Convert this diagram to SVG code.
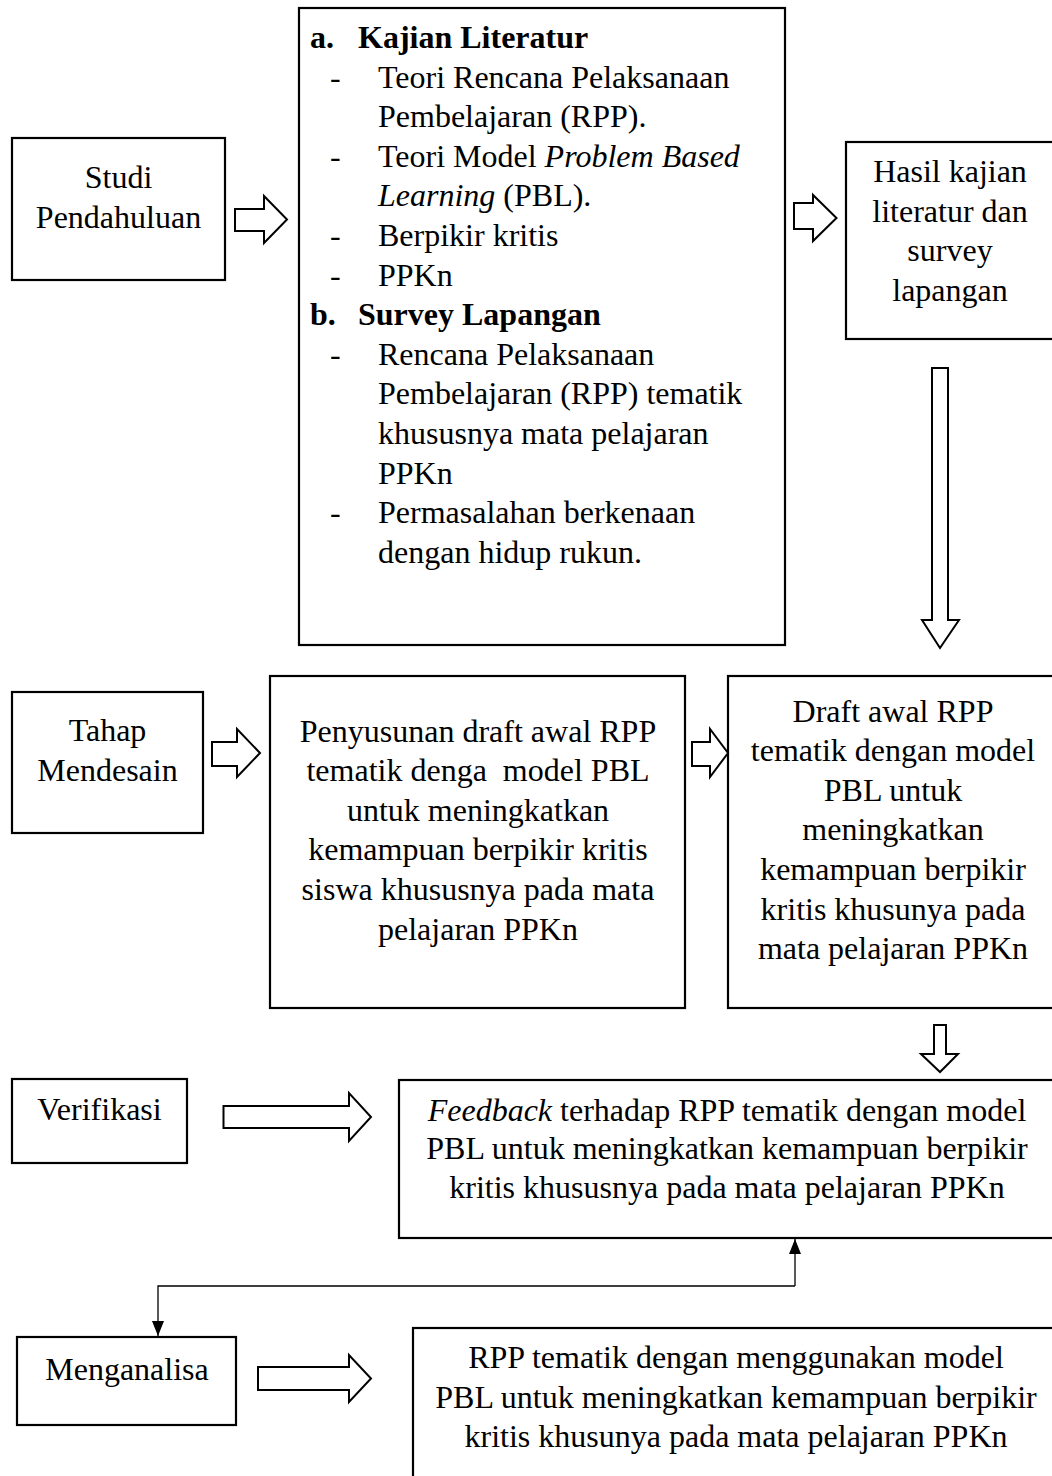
<svg xmlns="http://www.w3.org/2000/svg" width="1052" height="1476" viewBox="0 0 1052 1476">
<style>
  .box { fill: #ffffff; stroke: #000000; stroke-width: 2.2; }
  .barrow { fill: #ffffff; stroke: #000000; stroke-width: 2; stroke-linejoin: miter; }
  .t { font-family: "Liberation Serif", "Times New Roman", serif; font-size: 32px; fill: #000000; }
  .c { text-anchor: middle; }
  .b { font-weight: bold; }
  .i { font-style: italic; }
  .conn { fill: none; stroke: #000000; stroke-width: 1.3; }
</style>
<defs>
  <marker id="ah" viewBox="0 0 10 10" refX="10" refY="5" markerWidth="10" markerHeight="10" markerUnits="userSpaceOnUse" orient="auto">
    <path d="M0,0 L10,5 L0,10 Z" fill="#000000"/>
  </marker>
  <marker id="ahL" viewBox="0 0 15 12" refX="15" refY="6" markerWidth="15" markerHeight="12" markerUnits="userSpaceOnUse" orient="auto">
    <path d="M0,0 L15,6 L0,12 Z" fill="#000000"/>
  </marker>
</defs>
<rect width="1052" height="1476" fill="#ffffff"/>

<g id="studi">
  <rect class="box" x="12" y="138" width="213" height="142"/>
  <text class="t c" x="118.5" y="188">Studi</text>
  <text class="t c" x="118.5" y="228">Pendahuluan</text>
</g>

<g id="kajian">
  <rect class="box" x="299" y="8" width="486" height="637"/>
  <text class="t b" x="310" y="48">a.</text>
  <text class="t b" x="358" y="48">Kajian Literatur</text>
  <text class="t" x="330" y="87.6">-</text>
  <text class="t" x="378" y="87.6">Teori Rencana Pelaksanaan</text>
  <text class="t" x="378" y="127.2">Pembelajaran (RPP).</text>
  <text class="t" x="330" y="166.8">-</text>
  <text class="t" x="378" y="166.8">Teori Model <tspan class="i">Problem Based</tspan></text>
  <text class="t" x="378" y="206.4"><tspan class="i">Learning</tspan> (PBL).</text>
  <text class="t" x="330" y="246">-</text>
  <text class="t" x="378" y="246">Berpikir kritis</text>
  <text class="t" x="330" y="285.6">-</text>
  <text class="t" x="378" y="285.6">PPKn</text>
  <text class="t b" x="310" y="325.2">b.</text>
  <text class="t b" x="358" y="325.2">Survey Lapangan</text>
  <text class="t" x="330" y="364.8">-</text>
  <text class="t" x="378" y="364.8">Rencana Pelaksanaan</text>
  <text class="t" x="378" y="404.4">Pembelajaran (RPP) tematik</text>
  <text class="t" x="378" y="444">khususnya mata pelajaran</text>
  <text class="t" x="378" y="483.6">PPKn</text>
  <text class="t" x="330" y="523.2">-</text>
  <text class="t" x="378" y="523.2">Permasalahan berkenaan</text>
  <text class="t" x="378" y="562.8">dengan hidup rukun.</text>
</g>

<g id="hasil">
  <rect class="box" x="846" y="142" width="220" height="197"/>
  <text class="t c" x="950" y="182">Hasil kajian</text>
  <text class="t c" x="950" y="221.5">literatur dan</text>
  <text class="t c" x="950" y="261">survey</text>
  <text class="t c" x="950" y="300.5">lapangan</text>
</g>

<g id="tahap">
  <rect class="box" x="12" y="692" width="191" height="141"/>
  <text class="t c" x="107.5" y="741">Tahap</text>
  <text class="t c" x="107.5" y="781">Mendesain</text>
</g>

<g id="penyusunan">
  <rect class="box" x="270" y="676" width="415" height="332"/>
  <text class="t c" x="478" y="741.5">Penyusunan draft awal RPP</text>
  <text class="t c" x="478" y="781" xml:space="preserve">tematik denga  model PBL</text>
  <text class="t c" x="478" y="820.7">untuk meningkatkan</text>
  <text class="t c" x="478" y="860.3">kemampuan berpikir kritis</text>
  <text class="t c" x="478" y="900">siswa khususnya pada mata</text>
  <text class="t c" x="478" y="939.5">pelajaran PPKn</text>
</g>

<g id="draft">
  <rect class="box" x="728" y="676" width="340" height="332"/>
  <text class="t c" x="893" y="721.5">Draft awal RPP</text>
  <text class="t c" x="893" y="761">tematik dengan model</text>
  <text class="t c" x="893" y="800.7">PBL untuk</text>
  <text class="t c" x="893" y="840.3">meningkatkan</text>
  <text class="t c" x="893" y="880">kemampuan berpikir</text>
  <text class="t c" x="893" y="919.5">kritis khusunya pada</text>
  <text class="t c" x="893" y="959">mata pelajaran PPKn</text>
</g>

<g id="verifikasi">
  <rect class="box" x="12" y="1079" width="175" height="84"/>
  <text class="t c" x="99.5" y="1120">Verifikasi</text>
</g>

<g id="feedback">
  <rect class="box" x="399" y="1080" width="670" height="158"/>
  <text class="t c" x="727" y="1120.5"><tspan class="i">Feedback</tspan> terhadap RPP tematik dengan model</text>
  <text class="t c" x="727" y="1159">PBL untuk meningkatkan kemampuan berpikir</text>
  <text class="t c" x="727" y="1197.5">kritis khususnya pada mata pelajaran PPKn</text>
</g>

<g id="menganalisa">
  <rect class="box" x="17" y="1337" width="219" height="88"/>
  <text class="t c" x="127" y="1380">Menganalisa</text>
</g>

<g id="rpp">
  <rect class="box" x="413" y="1328" width="660" height="200"/>
  <text class="t c" x="736" y="1368">RPP tematik dengan menggunakan model</text>
  <text class="t c" x="736" y="1407.5">PBL untuk meningkatkan kemampuan berpikir</text>
  <text class="t c" x="736" y="1447">kritis khusunya pada mata pelajaran PPKn</text>
</g>

<g id="connectors">
  <polygon class="barrow" points="235,209 264,209 264,196 287,219.5 264,243 264,231 235,231"/>
  <polygon class="barrow" points="794,203 813,203 813,195 836.5,218 813,241 813,229 794,229"/>
  <polygon class="barrow" points="932,368 948,368 948,620 959,620 940,648 922,620 932,620"/>
  <polygon class="barrow" points="212,742 237,742 237,729 260,753 237,777 237,766 212,766"/>
  <polygon class="barrow" points="692,742 710,742 710,729 728,753 710,777 710,766 692,766"/>
  <polygon class="barrow" points="934,1025 946,1025 946,1054 958,1054 940,1072 921,1054 934,1054"/>
  <polygon class="barrow" points="223.5,1106 349,1106 349,1093 371,1117 349,1141 349,1128 223.5,1128"/>
  <polygon class="barrow" points="258,1367 349,1367 349,1355 371,1378.5 349,1402 349,1390 258,1390"/>
  <path class="conn" d="M795,1286 L795,1239" marker-end="url(#ahL)"/>
  <path class="conn" d="M795,1286 L158,1286 L158,1336" marker-end="url(#ahL)"/>
</g>
</svg>
